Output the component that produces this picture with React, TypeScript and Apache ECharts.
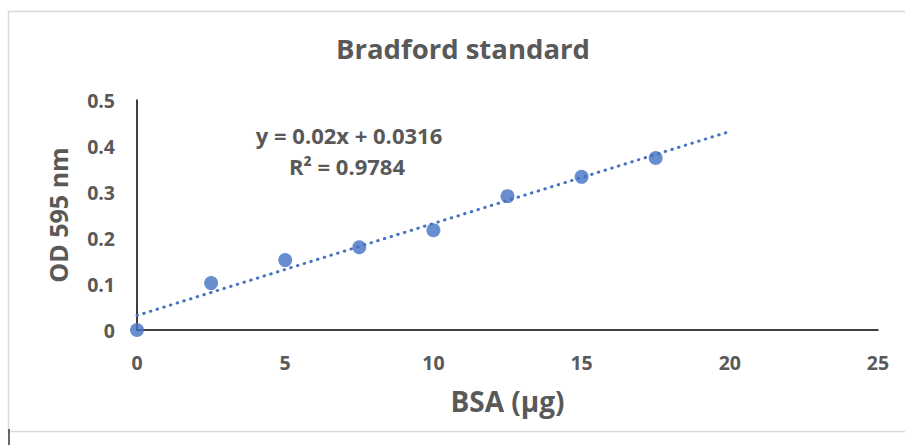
import React, { useEffect, useRef } from "react";
import * as echarts from "echarts";

const titleText = "Bradford standard";
const xName = "BSA (µg)";
const yName = "OD 595 nm";
const bsa = [0, 2.5, 5, 7.5, 10, 12.5, 15, 17.5];
const od = [0, 0.102, 0.152, 0.18, 0.217, 0.291, 0.333, 0.374];
const trendX = [0, 20];
const trendY = [0.0316, 0.4316];
const equationText = "y = 0.02x + 0.0316";
const r2Text = "R² = 0.9784";

const BLUE = "#4472C4";
const GRAY = "#595959";
const FONT = "'Open Sans', sans-serif";

export default function App() {
  const ref = useRef<HTMLDivElement>(null);
  useEffect(() => {
    if (!ref.current) return;
    const chart = echarts.init(ref.current, undefined, { renderer: "svg" });
    chart.setOption({
      animation: false,
      backgroundColor: "#ffffff",
      textStyle: { fontFamily: FONT },
      title: {
        text: titleText,
        left: 331,
        top: 29,
        textStyle: { fontFamily: FONT, fontSize: 27.5, fontWeight: "bold", color: GRAY },
      },
      grid: { left: 137, right: 27, top: 100, bottom: 115 },
      xAxis: {
        type: "value",
        min: 0,
        max: 25,
        interval: 5,
        name: xName,
        nameLocation: "middle",
        nameGap: 57,
        nameTextStyle: { fontFamily: FONT, fontSize: 28, fontWeight: "bold", color: GRAY },
        axisLine: { show: true, onZero: false, lineStyle: { color: "#000", width: 1.5 } },
        axisTick: { show: false },
        splitLine: { show: false },
        axisLabel: { margin: 22, fontFamily: FONT, fontSize: 19.5, fontWeight: "bold", color: GRAY },
      },
      yAxis: {
        type: "value",
        min: 0,
        max: 0.5,
        interval: 0.1,
        name: yName,
        nameLocation: "middle",
        nameGap: 67,
        nameTextStyle: { fontFamily: FONT, fontSize: 25, fontWeight: "bold", color: GRAY },
        axisLine: { show: true, lineStyle: { color: "#000", width: 1.5 } },
        axisTick: { show: false },
        splitLine: { show: false },
        axisLabel: { margin: 22, fontFamily: FONT, fontSize: 19.5, fontWeight: "bold", color: GRAY },
      },
      series: [
        {
          type: "line",
          data: trendX.map((x, i) => [x, trendY[i]]),
          symbol: "none",
          lineStyle: { color: BLUE, width: 3, type: [0.5, 6.5], cap: "round" },
          z: 2,
        },
        {
          type: "scatter",
          data: bsa.map((x, i) => [x, od[i]]),
          symbol: "circle",
          symbolSize: 14,
          itemStyle: { color: BLUE },
          z: 3,
        },
      ],
      graphic: [
        {
          type: "rect",
          shape: { x: 8.5, y: 11.5, width: 920, height: 420 },
          style: { fill: "none", stroke: "#d9d9d9", lineWidth: 1.5 },
          silent: true,
        },
        {
          type: "line",
          shape: { x1: 9, y1: 429, x2: 9, y2: 445 },
          style: { stroke: "#333", lineWidth: 1.5 },
          silent: true,
        },
        {
          type: "text",
          x: 349,
          y: 135,
          style: {
            text: equationText,
            fontFamily: FONT,
            fontSize: 22,
            fontWeight: "bold",
            fill: GRAY,
            textAlign: "center",
            textVerticalAlign: "middle",
          },
        },
        {
          type: "text",
          x: 347,
          y: 166,
          style: {
            text: r2Text,
            fontFamily: FONT,
            fontSize: 22,
            fontWeight: "bold",
            fill: GRAY,
            textAlign: "center",
            textVerticalAlign: "middle",
          },
        },
      ],
    });
    return () => chart.dispose();
  }, []);
  return (
    <div
      ref={ref}
      style={{ position: "fixed", left: 0, top: 0, width: 905, height: 445 }}
    />
  );
}
